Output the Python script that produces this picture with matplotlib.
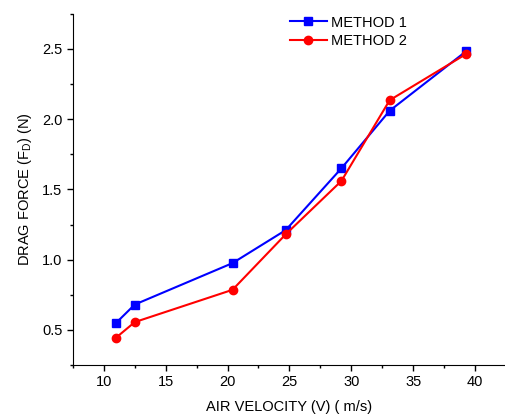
import matplotlib.pyplot as plt
from matplotlib.ticker import MultipleLocator

plt.rcParams['font.family'] = ['Liberation Sans', 'DejaVu Sans']

# air velocity (m/s)
velocity = [11.0, 12.5, 20.4, 24.7, 29.2, 33.1, 39.3]
# drag force (N)
method1 = [0.55, 0.68, 0.975, 1.21, 1.65, 2.06, 2.485]
method2 = [0.445, 0.555, 0.785, 1.18, 1.56, 2.135, 2.465]

fig = plt.figure(figsize=(5.06, 4.19), dpi=100)
ax = fig.add_axes([0.144, 0.129, 0.856, 0.838])

ax.plot(velocity, method1, color='#0000ff', marker='s', markersize=5.5,
        linewidth=1.5, label='METHOD 1')
ax.plot(velocity, method2, color='#ff0000', marker='o', markersize=6,
        linewidth=1.5, label='METHOD 2')

ax.set_xlim(7.5, 42.5)
ax.set_ylim(0.25, 2.75)
ax.xaxis.set_major_locator(MultipleLocator(5))
ax.xaxis.set_minor_locator(MultipleLocator(2.5))
ax.yaxis.set_major_locator(MultipleLocator(0.5))
ax.yaxis.set_minor_locator(MultipleLocator(0.25))

ax.spines['top'].set_visible(False)
ax.spines['right'].set_visible(False)
ax.tick_params(which='major', direction='out', length=4, width=1, labelsize=10.5)
ax.tick_params(which='minor', direction='out', length=2.5, width=1)

ax.set_xlabel('AIR VELOCITY (V) ( m/s)', fontsize=10.5, labelpad=8)
ax.set_ylabel('DRAG FORCE (F$_\\mathregular{D}$) (N)', fontsize=10.5, labelpad=6)

ax.legend(loc='upper left', bbox_to_anchor=(0.48, 1.02), frameon=False,
          fontsize=10.5, handlelength=2.6, handletextpad=0.25,
          labelspacing=0.3, borderpad=0.1)

plt.savefig('out.png', dpi=100)
